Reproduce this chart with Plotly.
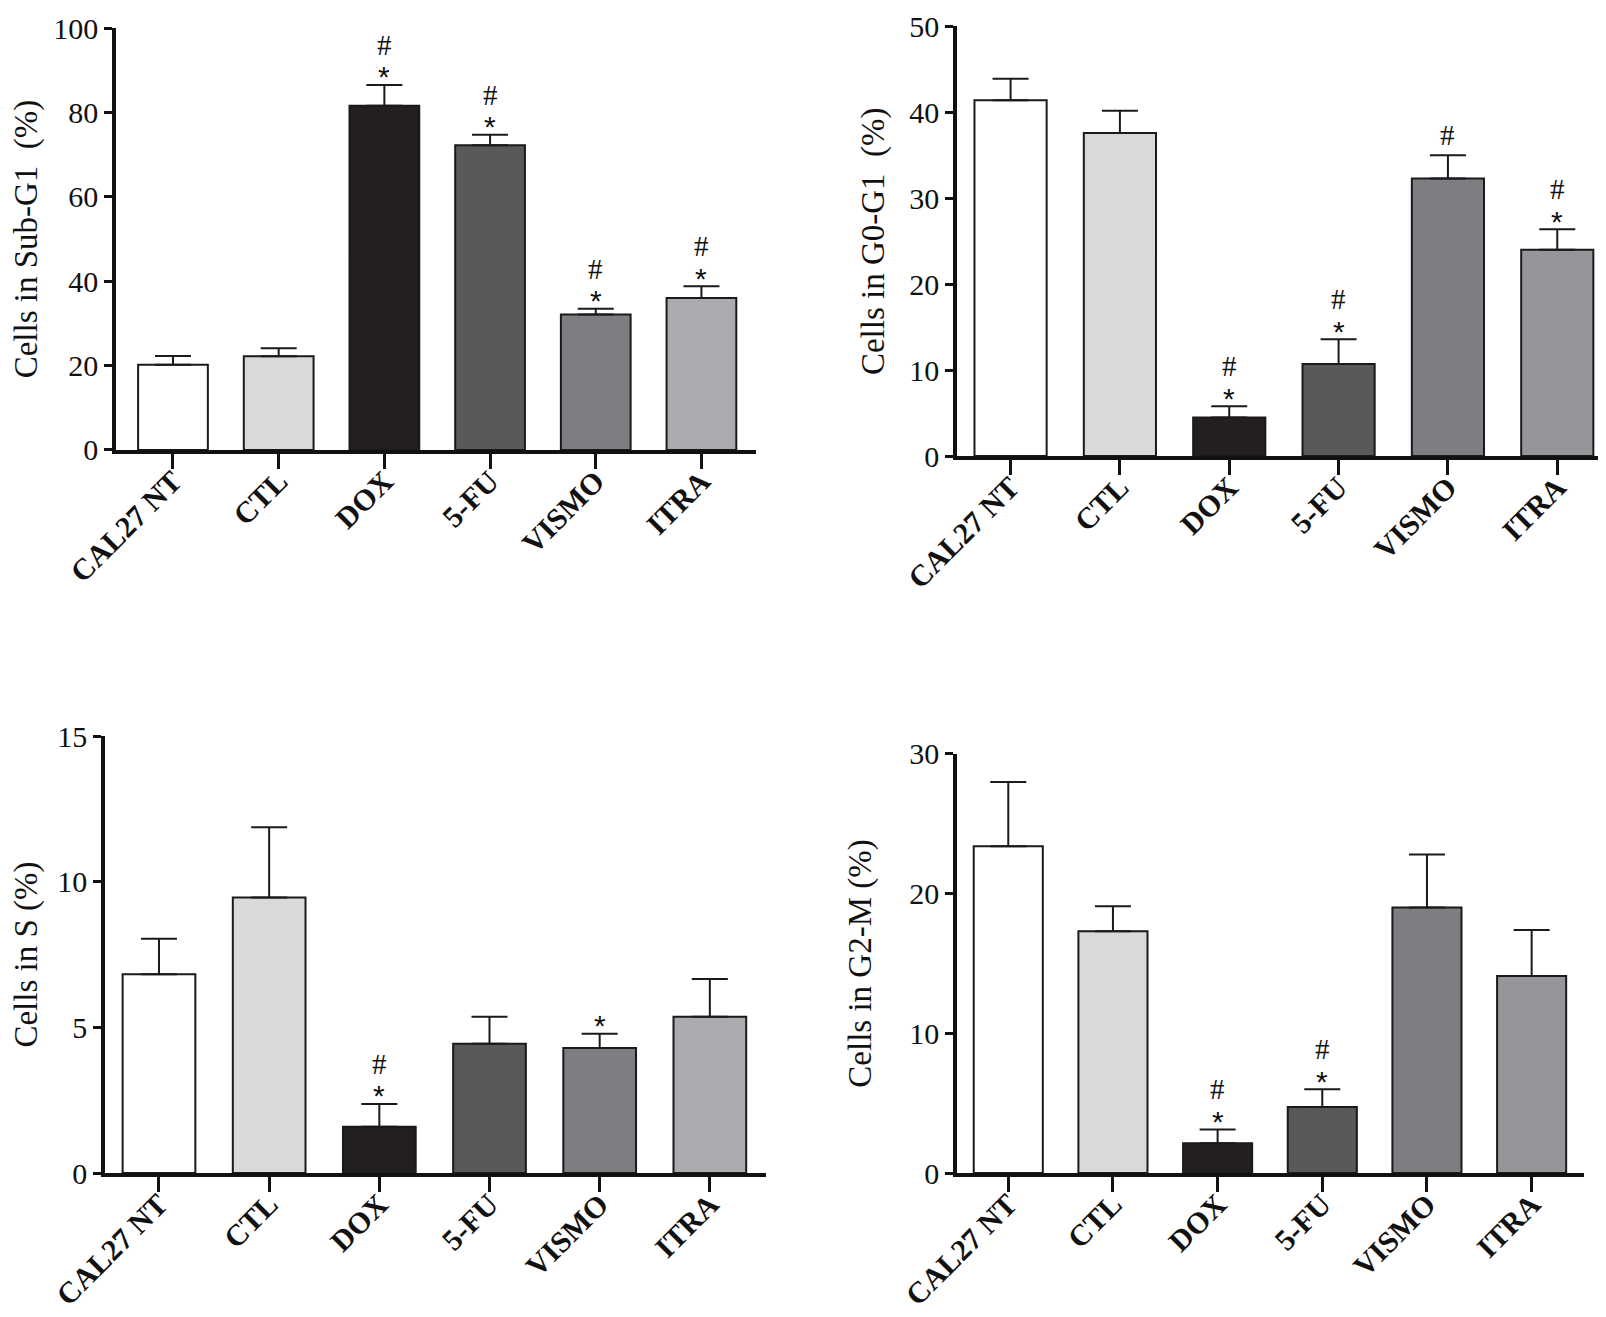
import plotly.graph_objects as go

categories = ["CAL27 NT", "CTL", "DOX", "5-FU", "VISMO", "ITRA"]

subg1_mean = [20.2, 22.2, 81.6, 72.2, 32.1, 36.0]
subg1_upper = [22.3, 24.1, 86.5, 74.7, 33.5, 38.8]
subg1_marks = [None, None, "#*", "#*", "#*", "#*"]

g0g1_mean = [41.4, 37.6, 4.5, 10.7, 32.3, 24.0]
g0g1_upper = [43.9, 40.2, 5.8, 13.6, 35.0, 26.4]
g0g1_marks = [None, None, "#*", "#*", "#", "#*"]

s_mean = [6.82, 9.46, 1.59, 4.44, 4.29, 5.36]
s_upper = [8.04, 11.87, 2.37, 5.36, 4.78, 6.66]
s_marks = [None, None, "#*", None, "*", None]

g2m_mean = [23.4, 17.3, 2.13, 4.72, 19.0, 14.1]
g2m_upper = [28.0, 19.1, 3.12, 6.0, 22.8, 17.4]
g2m_marks = [None, None, "#*", "#*", None, None]

colors_a = ["#ffffff", "#d8d9db", "#231f20", "#58595b", "#7d7e82", "#aaabae"]
colors_b = ["#ffffff", "#d8d9db", "#231f20", "#58595b", "#7d7e82", "#95969a"]

panels = [
    dict(mean=subg1_mean, upper=subg1_upper, marks=subg1_marks, colors=colors_a,
         title="Cells in Sub-G1  (%)", yrange=[0, 100], ticks=[0, 20, 40, 60, 80, 100],
         xdom=[0.0672, 0.466], ydom=[0.6644, 0.9848], xrange=[-0.54, 5.52], standoff=14),
    dict(mean=g0g1_mean, upper=g0g1_upper, marks=g0g1_marks, colors=colors_b,
         title="Cells in G0-G1  (%)", yrange=[0, 50], ticks=[0, 10, 20, 30, 40, 50],
         xdom=[0.5909, 0.9994], ydom=[0.6598, 0.986], xrange=[-0.49, 5.51], standoff=16),
    dict(mean=s_mean, upper=s_upper, marks=s_marks, colors=colors_a,
         title="Cells in S (%)", yrange=[0, 15], ticks=[0, 5, 10, 15],
         xdom=[0.0604, 0.472], ydom=[0.1154, 0.4472], xrange=[-0.49, 5.51], standoff=19),
    dict(mean=g2m_mean, upper=g2m_upper, marks=g2m_marks, colors=colors_b,
         title="Cells in G2-M (%)", yrange=[0, 30], ticks=[0, 10, 20, 30],
         xdom=[0.5909, 0.9813], ydom=[0.1154, 0.4336], xrange=[-0.49, 5.5], standoff=29),
]

SERIF = "Liberation Serif"
fig = go.Figure()
annotations = []
for i, p in enumerate(panels):
    n = "" if i == 0 else str(i + 1)
    xs = list(range(len(categories)))
    err = [u - m for u, m in zip(p["upper"], p["mean"])]
    fig.add_trace(go.Bar(
        x=xs, y=p["mean"], width=0.66,
        marker=dict(color=p["colors"], line=dict(color="#1a1a1a", width=2)),
        error_y=dict(type="data", array=err, arrayminus=[0] * len(err), symmetric=False,
                     color="#1a1a1a", thickness=2, width=18),
        xaxis="x" + n, yaxis="y" + n, showlegend=False,
    ))
    fig.update_layout(**{
        "xaxis" + n: dict(
            domain=p["xdom"], range=p["xrange"], anchor="y" + n, automargin=False,
            tickmode="array", tickvals=xs, ticktext=categories, tickangle=-45,
            tickfont=dict(family=SERIF, size=30, color="#111", weight="bold"),
            ticklabelstandoff=-17, ticklabeloverflow="allow",
            showline=True, linecolor="#111", linewidth=3.5,
            ticks="outside", ticklen=15, tickwidth=3, tickcolor="#111",
            showgrid=False, zeroline=False, fixedrange=True,
        ),
        "yaxis" + n: dict(
            domain=p["ydom"], range=p["yrange"], anchor="x" + n,
            tickmode="array", tickvals=p["ticks"], ticktext=[str(t) for t in p["ticks"]],
            automargin=False, ticklabeloverflow="allow",
            tickfont=dict(family=SERIF, size=30, color="#111"),
            title=dict(text=p["title"], font=dict(family=SERIF, size=33, color="#111"),
                       standoff=p["standoff"]),
            showline=True, linecolor="#111", linewidth=3.5,
            ticks="outside", ticklen=8, tickwidth=3, tickcolor="#111",
            showgrid=False, zeroline=False, fixedrange=True,
        ),
    })
    for x, u, mk in zip(xs, p["upper"], p["marks"]):
        if not mk:
            continue
        if "*" in mk:
            annotations.append(dict(x=x, y=u, xref="x" + n, yref="y" + n, text="*",
                                    showarrow=False, yanchor="middle", yshift=8,
                                    font=dict(family="Liberation Sans", size=30, color="#111")))
            hshift = 40
        else:
            hshift = 20
        if "#" in mk:
            annotations.append(dict(x=x, y=u, xref="x" + n, yref="y" + n, text="#",
                                    showarrow=False, yanchor="middle", yshift=hshift,
                                    font=dict(family=SERIF, size=29, color="#111")))

fig.update_layout(
    width=1606, height=1317,
    margin=dict(l=0, r=0, t=0, b=0),
    paper_bgcolor="white", plot_bgcolor="white",
    annotations=annotations,
    bargap=0.3,
)
fig.write_html("out.html")
